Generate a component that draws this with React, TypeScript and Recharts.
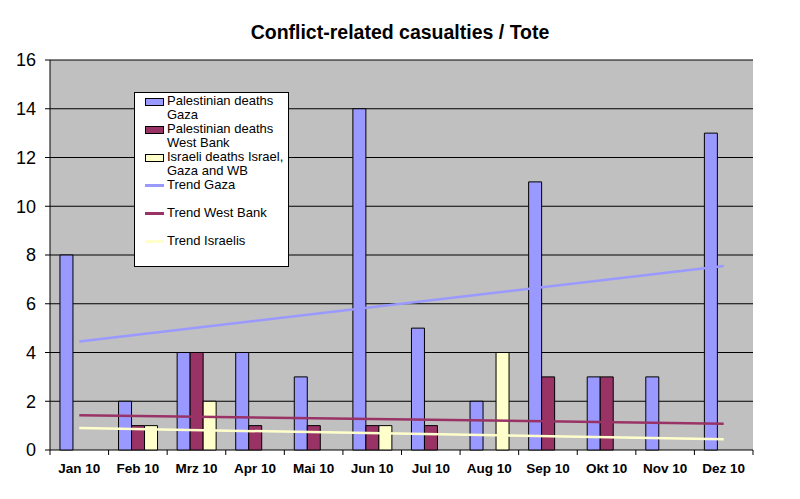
import React from 'react';
import { ComposedChart, Bar, Line, XAxis, YAxis, CartesianGrid } from 'recharts';

const months = ['Jan 10', 'Feb 10', 'Mrz 10', 'Apr 10', 'Mai 10', 'Jun 10', 'Jul 10', 'Aug 10', 'Sep 10', 'Okt 10', 'Nov 10', 'Dez 10'];
const gaza = [8, 2, 4, 4, 3, 14, 5, 2, 11, 3, 3, 13];
const westBank = [0, 1, 4, 1, 1, 1, 1, 0, 3, 3, 0, 0];
const israelis = [0, 1, 2, 0, 0, 1, 0, 4, 0, 0, 0, 0];
// trend lines: only the end points
const trendGaza = [4.45, null, null, null, null, null, null, null, null, null, null, 7.55];
const trendWestBank = [1.43, null, null, null, null, null, null, null, null, null, null, 1.08];
const trendIsraelis = [0.9, null, null, null, null, null, null, null, null, null, null, 0.44];
const yTicks = [0, 2, 4, 6, 8, 10, 12, 14, 16];

const C_GAZA = '#9999FF';
const C_WB = '#993366';
const C_ISR = '#FFFFCC';
const FONT = '"Liberation Sans", Arial, sans-serif';
const X_TICK_MARGIN = 10;

const data = months.map((m, i) => ({
  month: m,
  gaza: gaza[i],
  westBank: westBank[i],
  israelis: israelis[i],
  trendGaza: trendGaza[i],
  trendWestBank: trendWestBank[i],
  trendIsraelis: trendIsraelis[i],
}));

const legendItems = [
  { label: ['Palestinian deaths', 'Gaza'], color: C_GAZA, kind: 'box' },
  { label: ['Palestinian deaths', 'West Bank'], color: C_WB, kind: 'box' },
  { label: ['Israeli deaths Israel,', 'Gaza and WB'], color: C_ISR, kind: 'box' },
  { label: ['Trend Gaza'], color: C_GAZA, kind: 'line' },
  { label: ['Trend West Bank'], color: C_WB, kind: 'line' },
  { label: ['Trend Israelis'], color: C_ISR, kind: 'line' },
];

// Excel-style category axis: tick marks sit between the categories
function MonthTick(props: any) {
  const { x, y, payload, index, width, visibleTicksCount } = props;
  const half = width / visibleTicksCount / 2;
  const top = y - X_TICK_MARGIN;
  return (
    <g>
      <line x1={x - half} x2={x - half} y1={top} y2={top + 5} stroke="#000" />
      {index === visibleTicksCount - 1 && (
        <line x1={x + half} x2={x + half} y1={top} y2={top + 5} stroke="#000" />
      )}
      <text x={x} y={y + 3} dy="0.71em" textAnchor="middle" fill="#000"
        fontFamily={FONT} fontSize={13.5} fontWeight="bold">
        {payload.value}
      </text>
    </g>
  );
}

function ChartLegend() {
  return (
    <div style={{
      position: 'absolute', left: 134, top: 92, width: 155, height: 175,
      boxSizing: 'border-box', background: '#fff', border: '1px solid #000',
      fontFamily: FONT, fontSize: 13, color: '#000',
    }}>
      {legendItems.map((item, i) => (
        <div key={i} style={{ position: 'absolute', left: 0, top: 1 + i * 28, width: '100%' }}>
          {item.kind === 'box' ? (
            <div style={{
              position: 'absolute', left: 10, top: 4, width: 17, height: 6,
              background: item.color, border: '1px solid #000',
            }} />
          ) : (
            <div style={{
              position: 'absolute', left: 10, top: 6, width: 19, height: 2.5,
              background: item.color,
            }} />
          )}
          <div style={{ position: 'absolute', left: 32, top: 0, lineHeight: '14px', whiteSpace: 'nowrap' }}>
            {item.label.map((l, j) => <div key={j}>{l}</div>)}
          </div>
        </div>
      ))}
    </div>
  );
}

export default function App() {
  return (
    <div style={{ position: 'absolute', left: 0, top: 0, width: 800, height: 499, background: '#fff' }}>
      <div style={{
        position: 'absolute', top: 21, width: 800, textAlign: 'center',
        fontFamily: FONT, fontWeight: 'bold', fontSize: 19.5,
      }}>
        Conflict-related casualties / Tote
      </div>
      <ComposedChart
        width={800}
        height={499}
        data={data}
        margin={{ top: 60, right: 47, bottom: 19, left: 0 }}
        barCategoryGap="17%"
        barGap={0}
      >
        <CartesianGrid fill="#C0C0C0" stroke="#000" vertical={false} />
        <XAxis dataKey="month" height={30} tickLine={false} tickSize={0} axisLine={false} interval={0}
          tick={<MonthTick />} tickMargin={X_TICK_MARGIN} />
        <YAxis domain={[0, 16]} ticks={yTicks} width={50} interval={0}
          axisLine={{ stroke: '#000' }} tickLine={{ stroke: '#000' }} tickSize={5} tickMargin={9}
          tick={{ fill: '#000', fontFamily: FONT, fontSize: 18 }} />
        <YAxis yAxisId="r" orientation="right" domain={[0, 16]} width={0} tick={false} tickLine={false}
          axisLine={{ stroke: '#000' }} />
        <Bar dataKey="gaza" fill={C_GAZA} stroke="#000" strokeWidth={1} isAnimationActive={false} />
        <Bar dataKey="westBank" fill={C_WB} stroke="#000" strokeWidth={1} isAnimationActive={false} />
        <Bar dataKey="israelis" fill={C_ISR} stroke="#000" strokeWidth={1} isAnimationActive={false} />
        <Line dataKey="trendGaza" stroke={C_GAZA} strokeWidth={2.5} dot={false} connectNulls isAnimationActive={false} />
        <Line dataKey="trendWestBank" stroke={C_WB} strokeWidth={2.5} dot={false} connectNulls isAnimationActive={false} />
        <Line dataKey="trendIsraelis" stroke={C_ISR} strokeWidth={2.5} dot={false} connectNulls isAnimationActive={false} />
      </ComposedChart>
      <ChartLegend />
    </div>
  );
}
